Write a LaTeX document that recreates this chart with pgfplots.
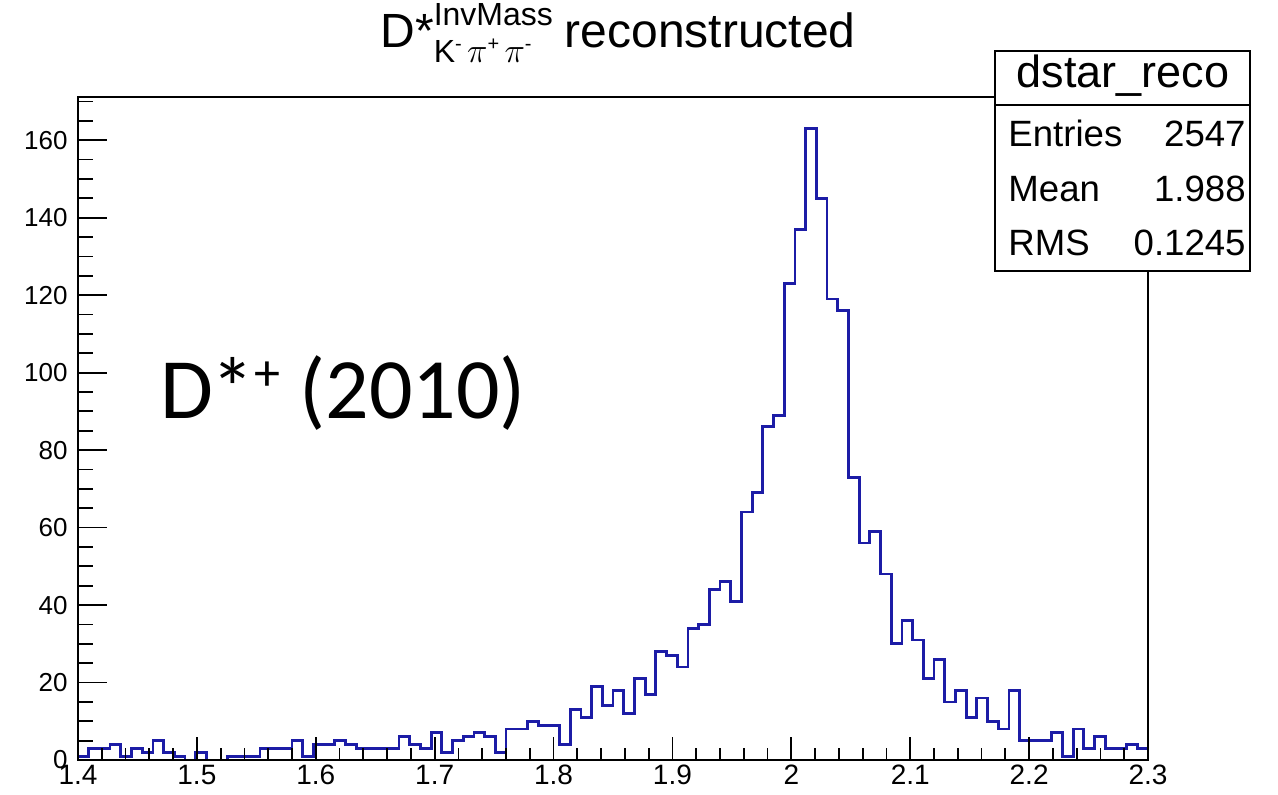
\documentclass[border=0pt]{standalone}
\usepackage{pgfplots}
\pgfplotsset{compat=1.18}
\usepackage{pgfplotstable}
\usepackage{fontspec}
\setmainfont{Liberation Sans}
\newfontfamily\calibri{Carlito}
\definecolor{histblue}{RGB}{28,28,166}

% dstar_reco: 100 bins from 1.4 to 2.3 (bin width 0.009), low edge and content
\pgfplotstableread{
low count
1.400 1
1.409 3
1.418 3
1.427 4
1.436 1
1.445 3
1.454 2
1.463 5
1.472 2
1.481 1
1.490 0
1.499 2
1.508 0
1.517 0
1.526 1
1.535 1
1.544 1
1.553 3
1.562 3
1.571 3
1.580 5
1.589 1
1.598 4
1.607 4
1.616 5
1.625 4
1.634 3
1.643 3
1.652 3
1.661 3
1.670 6
1.679 4
1.688 3
1.697 7
1.706 2
1.715 5
1.724 6
1.733 7
1.742 6
1.751 2
1.760 8
1.769 8
1.778 10
1.787 9
1.796 9
1.805 4
1.814 13
1.823 11
1.832 19
1.841 14
1.850 18
1.859 12
1.868 21
1.877 17
1.886 28
1.895 27
1.904 24
1.913 34
1.922 35
1.931 44
1.940 46
1.949 41
1.958 64
1.967 69
1.976 86
1.985 89
1.994 123
2.003 137
2.012 163
2.021 145
2.030 119
2.039 116
2.048 73
2.057 56
2.066 59
2.075 48
2.084 30
2.093 36
2.102 31
2.111 21
2.120 26
2.129 15
2.138 18
2.147 11
2.156 16
2.165 10
2.174 8
2.183 18
2.192 5
2.201 5
2.210 5
2.219 7
2.228 1
2.237 8
2.246 3
2.255 6
2.264 3
2.273 3
2.282 4
2.291 3
2.300 3
}\histdata

\newcommand{\charge}[1]{\raisebox{6pt}{\fontsize{10}{10}\selectfont #1}}

\begin{document}
\begin{tikzpicture}[x=1pt,y=1pt]
\useasboundingbox (-39,-17) rectangle (600,380);
\begin{axis}[
  at={(0,0)}, anchor=south west,
  scale only axis, width=535pt, height=331.5pt,
  xmin=1.4, xmax=2.3, ymin=0, ymax=171.15,
  axis on top,
  axis line style={line width=1pt, black},
  xtick={1.4,1.5,1.6,1.7,1.8,1.9,2.0,2.1,2.2,2.3},
  xticklabels={1.4,1.5,1.6,1.7,1.8,1.9,2,2.1,2.2,2.3},
  minor x tick num=4,
  ytick={0,20,40,60,80,100,120,140,160},
  minor ytick={5,10,...,170},
  tick align=inside,
  xtick pos=lower, ytick pos=left,
  xtick style={/pgfplots/major tick length=11.5pt, /pgfplots/minor tick length=6pt},
  ytick style={/pgfplots/major tick length=14.3pt, /pgfplots/minor tick length=7.5pt},
  tick style={line width=0.9pt, black},
  /pgf/number format/assume math mode=true,
  xticklabel style={inner sep=0pt, yshift=-2.5pt, font=\fontsize{14}{14}\selectfont},
  yticklabel style={inner sep=0pt, xshift=-5pt, font=\fontsize{13}{13}\selectfont},
]
\addplot[histblue, line width=1.4pt, const plot, mark=none] table[x=low, y=count]{\histdata};
\end{axis}

% title
\node[anchor=base west, inner sep=0pt] at (151,356)
  {\fontsize{24}{24}\selectfont D*\rlap{\raisebox{-7.5pt}{\fontsize{16}{16}\selectfont K\charge{-}\,$\pi$\charge{+}\,$\pi$\charge{-}}}\raisebox{11pt}{\fontsize{16}{16}\selectfont InvMass}\hspace{6pt}reconstructed};

% statistics box
\draw[line width=1pt, fill=white] (458.5,244.5) rectangle (586,354.5);
\draw[line width=1pt] (458.5,327.25) -- (586,327.25);
\node[anchor=base, inner sep=0pt] at (522.5,336)
  {\fontsize{22.5}{22.5}\selectfont dstar\_reco};
\begin{scope}[every node/.style={inner sep=0pt, font=\fontsize{18.3}{18.3}\selectfont}]
\node[anchor=base west] at (465,306.5) {Entries};
\node[anchor=base east] at (584,306.5) {2547};
\node[anchor=base west] at (465,279) {Mean};
\node[anchor=base east] at (584,279) {1.988};
\node[anchor=base west] at (465,252) {RMS};
\node[anchor=base east] at (584,252) {0.1245};
\end{scope}

% particle label
\node[anchor=base west, inner sep=0pt] at (41,171)
  {\calibri\fontsize{43}{43}\selectfont D\kern-1pt*\raisebox{14pt}{\fontsize{26}{26}\selectfont +} (2010)};
\end{tikzpicture}
\end{document}
